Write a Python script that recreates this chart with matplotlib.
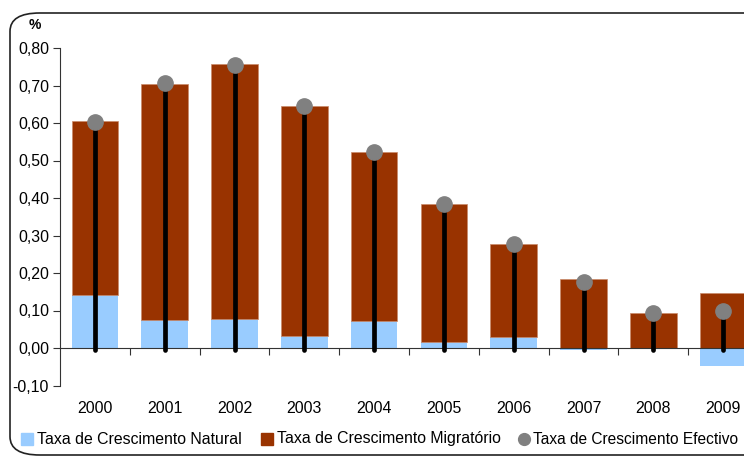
import matplotlib
matplotlib.use("Agg")
import matplotlib.pyplot as plt
from matplotlib.lines import Line2D
from matplotlib.patches import FancyBboxPatch, Rectangle
import numpy as np

plt.rcParams['font.family'] = ['Liberation Sans', 'DejaVu Sans']
plt.rcParams['font.size'] = 11.4

# Data
years = ['2000', '2001', '2002', '2003', '2004', '2005', '2006', '2007', '2008', '2009']
natural = [0.141, 0.074, 0.077, 0.033, 0.071, 0.017, 0.029, -0.006, 0.000, -0.049]
migratorio = [0.465, 0.631, 0.679, 0.612, 0.452, 0.367, 0.248, 0.185, 0.093, 0.147]
efectivo = [0.604, 0.706, 0.755, 0.645, 0.523, 0.384, 0.278, 0.175, 0.093, 0.098]

blue = '#99ccff'
brown = '#993300'
grey = '#808080'

W, H = 744, 458
fig = plt.figure(figsize=(W / 100, H / 100), dpi=100)

# rounded frame around the chart
frame = FancyBboxPatch((10 / W, 3 / H), 780 / W, 442 / H,
                       boxstyle="round,pad=0,rounding_size=0.04",
                       transform=fig.transFigure, fill=False,
                       edgecolor='#222222', linewidth=1.2, clip_on=False)
fig.patches.append(frame)

ax = fig.add_axes([60 / W, (H - 385.5) / H, 698 / W, 337.5 / H])

x = np.arange(len(years))
nat = np.array(natural)
mig = np.array(migratorio)
# negative natural values drawn below zero, positive ones stacked under migratory
nat_pos = np.where(nat > 0, nat, 0)
ax.bar(x, nat, width=0.67, color=blue, zorder=2)
ax.bar(x, mig, width=0.67, bottom=nat_pos, color=brown,
       edgecolor='#c98a6a', linewidth=0.5, zorder=2)

# effective growth: stems with grey dots
ax.vlines(x, -0.005, efectivo, color='black', linewidth=3.4, zorder=3, capstyle='round')
ax.plot(x, efectivo, 'o', color=grey, markersize=11, zorder=4)

ax.set_xlim(-0.5, len(years) - 0.5)
ax.set_ylim(-0.1, 0.8)

yt = np.round(np.arange(-0.1, 0.81, 0.1), 2)
ax.set_yticks(yt)
ax.set_yticklabels([f"{v:.2f}".replace('.', ',') for v in yt])

ax.set_xticks(np.arange(0.5, len(years) - 0.5, 1.0))
ax.set_xticklabels([])
ax.set_xticks(x, minor=True)
ax.set_xticklabels(years, minor=True)
ax.tick_params(axis='x', which='major', length=5, direction='out', color='#333333')
ax.tick_params(axis='x', which='minor', length=0, pad=38)
ax.tick_params(axis='y', length=5, direction='out', color='#333333', pad=3)

for s in ['top', 'right']:
    ax.spines[s].set_visible(False)
ax.spines['bottom'].set_position(('data', 0))
ax.spines['bottom'].set_color('#333333')
ax.spines['left'].set_color('#333333')

fig.text(35 / W, 1 - 25 / H, '%', ha='center', va='center', fontsize=10, weight='bold')

# legend, laid out by hand along the bottom of the frame
ly = 1 - 439 / H
fig.patches.append(Rectangle((21 / W, ly - 6 / H), 12 / W, 12 / H, color=blue,
                             transform=fig.transFigure))
fig.text(37 / W, ly, 'Taxa de Crescimento Natural', va='center')
fig.patches.append(Rectangle((261 / W, ly - 6 / H), 12 / W, 12 / H, color=brown,
                             transform=fig.transFigure))
fig.text(277 / W, ly, 'Taxa de Crescimento Migratório', va='center')
fig.add_artist(Line2D([524 / W], [ly], marker='o', color=grey, markersize=8.5,
                      transform=fig.transFigure))
fig.text(533 / W, ly, 'Taxa de Crescimento Efectivo', va='center', fontsize=11.2)

fig.savefig('out.png', dpi=100)
